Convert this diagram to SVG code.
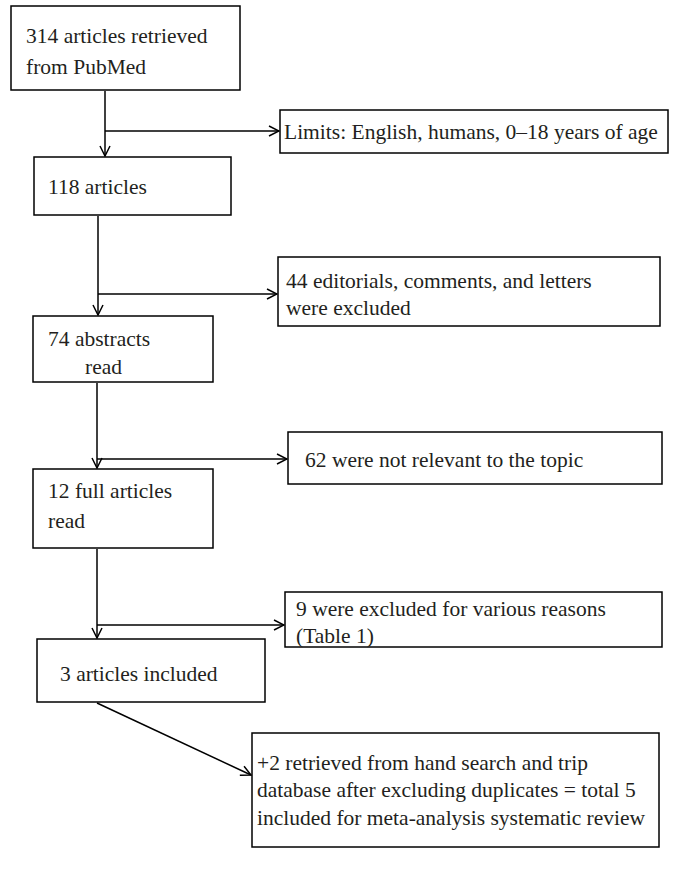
<svg xmlns="http://www.w3.org/2000/svg" width="676" height="886" viewBox="0 0 676 886">
<style>
rect{fill:#fff;stroke:#000;stroke-width:1.5}
text{font-family:"Liberation Serif",serif;font-size:21.5px;fill:#231f20}
.c{stroke:#000;stroke-width:1.5;fill:none;marker-end:url(#a)}
</style>
<defs><marker id="a" viewBox="0 0 12 12" refX="11" refY="6" markerWidth="12" markerHeight="12" markerUnits="userSpaceOnUse" orient="auto"><path d="M1,1 L11,6 L1,11" fill="none" stroke="#000" stroke-width="1.5"/></marker></defs>
<g id="connectors">
<path class="c" d="M105,91 V156"/><path class="c" d="M105,131 H279"/>
<path class="c" d="M98,216 V315"/><path class="c" d="M98,294 H277"/>
<path class="c" d="M97,383 V468"/><path class="c" d="M97,459 H287"/>
<path class="c" d="M97,549 V638"/><path class="c" d="M97,625 H284"/>
<path class="c" d="M97,703 L251,775"/>
</g>
<g id="n1"><rect x="11" y="6" width="229" height="84"/><text x="26" y="43">314 articles retrieved</text><text x="26" y="74">from PubMed</text></g>
<g id="n2"><rect x="280" y="110" width="388" height="43"/><text x="284" y="139">Limits: English, humans, 0–18 years of age</text></g>
<g id="n3"><rect x="34" y="157" width="197" height="58"/><text x="48" y="194">118 articles</text></g>
<g id="n4"><rect x="278" y="257" width="382" height="69"/><text x="286" y="288">44 editorials, comments, and letters</text><text x="286" y="315">were excluded</text></g>
<g id="n5"><rect x="33" y="316" width="180" height="66"/><text x="48" y="346">74 abstracts</text><text x="85" y="374">read</text></g>
<g id="n6"><rect x="288" y="432" width="374" height="52"/><text x="305" y="467">62 were not relevant to the topic</text></g>
<g id="n7"><rect x="33" y="469" width="180" height="79"/><text x="48" y="498">12 full articles</text><text x="48" y="528">read</text></g>
<g id="n8"><rect x="285" y="592" width="377" height="55"/><text x="296" y="616">9 were excluded for various reasons</text><text x="296" y="643">(Table 1)</text></g>
<g id="n9"><rect x="37" y="639" width="228" height="63"/><text x="60" y="681">3 articles included</text></g>
<g id="n10"><rect x="252" y="733" width="407" height="114"/><text x="257" y="770">+2 retrieved from hand search and trip</text><text x="257" y="797">database after excluding duplicates = total 5</text><text x="257" y="825">included for meta-analysis systematic review</text></g>
</svg>
